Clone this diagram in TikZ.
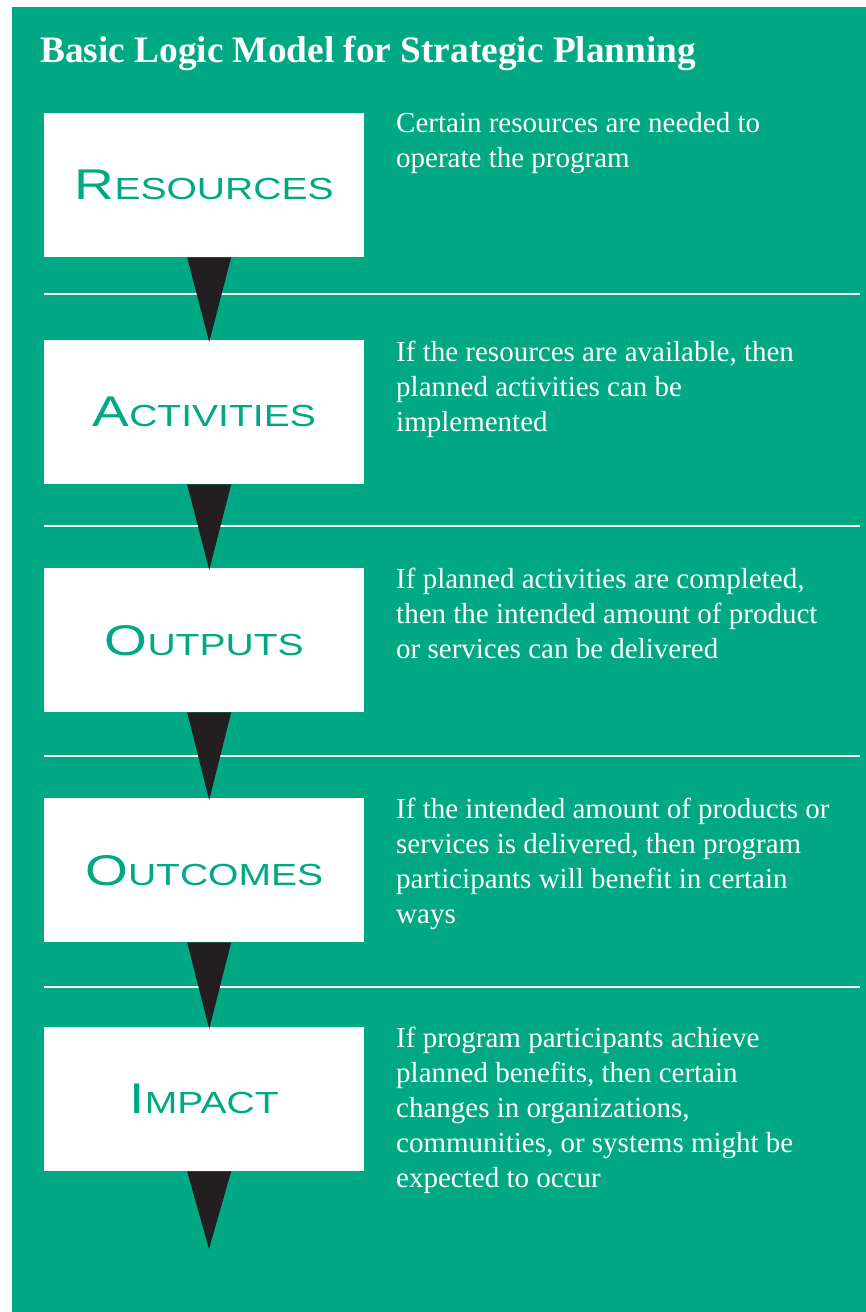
\documentclass[tikz,border=0pt]{standalone}
\usepackage{fontspec}
\setmainfont{Liberation Serif}
\newfontfamily\labelfont{Liberation Sans}
\definecolor{panelgreen}{HTML}{00A884}
\definecolor{arrowdark}{HTML}{231F20}
% wide small-capital stage names
\newcommand{\stagecap}[2]{\scalebox{1.28}[1]{{\fontsize{43}{43}\selectfont #1}{\fontsize{30.5}{30.5}\selectfont #2}}}
\begin{document}
\begin{tikzpicture}[x=1pt,y=-1pt,
  stagebox/.style={fill=white, draw=none, minimum width=320pt, minimum height=144pt,
    inner sep=0pt, anchor=north west, text=panelgreen, font=\labelfont},
  desc/.style={anchor=base west, inner sep=0pt, text=white, align=left,
    font=\fontsize{29}{35}\selectfont},
  sepline/.style={draw=white, line width=2.5pt},
  pointer/.style={fill=arrowdark, draw=none}]
  \useasboundingbox (0,0) rectangle (866,1312);
  \fill[white] (0,0) rectangle (866,1312);
  \fill[panelgreen] (12,7) rectangle (866,1312);

  % title
  \node[anchor=base west, inner sep=0pt, text=white, font=\bfseries\fontsize{37.3}{42}\selectfont]
    (title) at (40,62) {Basic Logic Model for Strategic Planning};

  % stage boxes
  \node[stagebox] (b1) at (44,113)  {\stagecap{R}{ESOURCES}};
  \node[stagebox] (b2) at (44,340)  {\stagecap{A}{CTIVITIES}};
  \node[stagebox] (b3) at (44,568)  {\stagecap{O}{UTPUTS}};
  \node[stagebox] (b4) at (44,798)  {\stagecap{O}{UTCOMES}};
  \node[stagebox] (b5) at (44,1027) {\stagecap{I}{MPACT}};
  \coordinate (end) at (209,1249);

  % separators between stages
  \foreach \y in {294,526,756,987} \draw[sepline] (44,\y) -- (860,\y);

  % pointers from each stage to the next
  \foreach \a/\b in {b1/b2,b2/b3,b3/b4,b4/b5}
    \fill[pointer] ([xshift=-17pt]\a.south) -- ([xshift=27pt]\a.south) -- ([xshift=5pt,yshift=-2pt]\b.north) -- cycle;
  \fill[pointer] ([xshift=-17pt]b5.south) -- ([xshift=27pt]b5.south) -- (end) -- cycle;

  % descriptions (anchored at the baseline of their last line)
  \node[desc] (d1) at (396,167) {Certain resources are needed to\\operate the program};
  \node[desc] (d2) at (396,431) {If the resources are available, then\\planned activities can be\\implemented};
  \node[desc] (d3) at (396,658) {If planned activities are completed,\\then the intended amount of product\\or services can be delivered};
  \node[desc] (d4) at (396,923) {If the intended amount of products or\\services is delivered, then program\\participants will benefit in certain\\ways};
  \node[desc] (d5) at (396,1187) {If program participants achieve\\planned benefits, then certain\\changes in organizations,\\communities, or systems might be\\expected to occur};
\end{tikzpicture}
\end{document}
